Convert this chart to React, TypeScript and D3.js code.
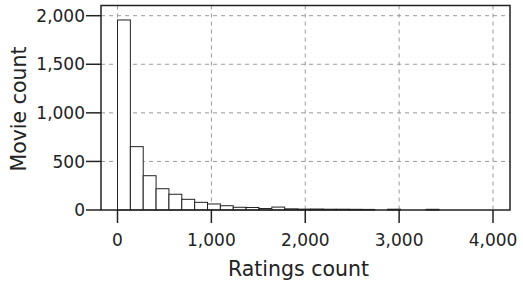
import React from "react";
import * as d3 from "d3";

const width = 523;
const height = 282;

// histogram of ratings per movie, bin width ~137 ratings
const binWidth = 137;
const binCounts = [
  1956, 652, 353, 219, 162, 110, 79, 62, 44, 28,
  26, 15, 30, 12, 9, 10, 8, 8, 7, 6,
  0, 8, 0, 0, 7, 0, 0, 0, 0, 0,
];
const xTicks = [0, 1000, 2000, 3000, 4000];
const yTicks = [0, 500, 1000, 1500, 2000];

const box = { left: 101, right: 510, top: 5.5, bottom: 210 };

const font = "DejaVu Sans, Verdana, sans-serif";

export default function App() {
  const x = d3.scaleLinear().domain([0, 4000]).range([117.5, 493]);
  const y = d3.scaleLinear().domain([0, 2000]).range([box.bottom, 15.7]);
  const fmt = d3.format(",");

  const bins = binCounts.map((c, i) => ({ x0: i * binWidth, x1: (i + 1) * binWidth, count: c }));

  return (
    <svg width={width} height={height} style={{ position: "absolute", left: 0, top: 0 }}>
      <rect x={0} y={0} width={width} height={height} fill="#fff" />
      {/* grid */}
      <g stroke="#999" strokeWidth={1} strokeDasharray="4,4">
        {xTicks.map((t) => (
          <line key={"gx" + t} x1={x(t)} x2={x(t)} y1={box.top} y2={box.bottom} />
        ))}
        {yTicks.filter((t) => t > 0).map((t) => (
          <line key={"gy" + t} x1={box.left} x2={box.right} y1={y(t)} y2={y(t)} />
        ))}
      </g>
      {/* bars */}
      <g fill="#fff" stroke="#222" strokeWidth={1}>
        {bins.filter((b) => b.count > 0).map((b, i) => (
          <rect key={i} x={x(b.x0)} y={y(b.count)} width={x(b.x1) - x(b.x0)} height={box.bottom - y(b.count)} />
        ))}
      </g>
      {/* frame */}
      <rect x={box.left} y={box.top} width={box.right - box.left} height={box.bottom - box.top}
        fill="none" stroke="#222" strokeWidth={1.5} />
      {/* axis ticks */}
      <g stroke="#222" strokeWidth={1.5}>
        {yTicks.map((t) => (
          <line key={"ty" + t} x1={86} x2={box.left} y1={y(t)} y2={y(t)} />
        ))}
        {xTicks.map((t) => (
          <line key={"tx" + t} x1={x(t)} x2={x(t)} y1={box.bottom} y2={223} />
        ))}
      </g>
      <g fontFamily={font} fontSize={17} fill="#222">
        {yTicks.map((t) => (
          <text key={"ly" + t} x={85} y={y(t)} dy="0.36em" textAnchor="end">{fmt(t)}</text>
        ))}
        {xTicks.map((t) => (
          <text key={"lx" + t} x={x(t)} y={245.5} textAnchor="middle">{fmt(t)}</text>
        ))}
      </g>
      <text x={298.5} y={275.5} textAnchor="middle" fontFamily={font} fontSize={20.5} fill="#222">
        Ratings count
      </text>
      <text transform={`translate(25.5,109) rotate(-90)`} textAnchor="middle"
        fontFamily={font} fontSize={20.5} fill="#222">
        Movie count
      </text>
    </svg>
  );
}
